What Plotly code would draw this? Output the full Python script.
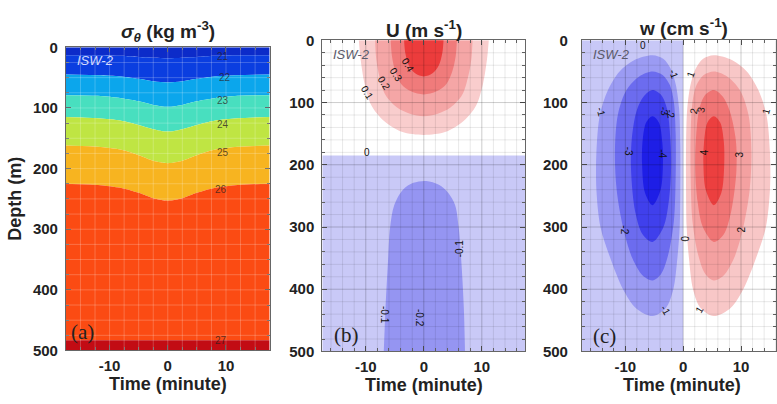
import plotly.graph_objects as go
import numpy as np

W, H = 777, 404
FONT = "Liberation Sans"

# ---------------- Panel (a): isopycnal depths (m) vs time (minute) ----------------
T_A = [-17.5, -12, -8, -5, -2.5, 0, 2.5, 5, 8, 12, 17.5]
SIGMA_LEVELS = [21, 22, 23, 24, 25, 26, 27]
D21 = [13, 13, 14, 16, 17, 18, 17, 16, 14, 13, 13]
D22 = [45, 46, 48, 52, 56, 58, 56, 52, 48, 46, 45]
D23 = [79, 80, 84, 89, 95, 98, 95, 89, 84, 80, 79]
D24 = [115, 117, 121, 128, 135, 139, 135, 128, 121, 117, 115]
D25 = [162, 164, 169, 178, 187, 191, 187, 178, 169, 164, 162]
D26 = [225, 227, 232, 240, 249, 253, 249, 240, 232, 227, 225]
D27 = [483, 483, 483, 483, 483, 483, 483, 483, 483, 483, 483]
A_COLORS = ['#0c2bc9', '#0b3ee0', '#0ba6ec', '#48dfbf', '#bfe543', '#f7b420',
            '#fb4b13', '#c20c14']
A_LABELS = [("21", 9.4, 15), ("22", 9.8, 49), ("23", 9.5, 88), ("24", 9.4, 128),
            ("25", 9.4, 174), ("26", 9.2, 234), ("27", 9.2, 484)]

# ---------------- Panel (b): U contours (m/s) ----------------
U_ZERO_T = [-17.5, 17.5]
U_ZERO_D = [185, 185]
U_NEG01_T = [-6.9, -6.6, -6.2, -5.8, -5.1, -3.6, -1.8, 0.4, 2.6, 4.2, 5.4, 6.0, 6.5, 6.9, 7.1]
U_NEG01_D = [500, 430, 360, 300, 265, 240, 229, 226, 232, 245, 265, 300, 360, 430, 500]
U01_T = [-11.2, -10.9, -10.2, -9.0, -6.8, -3.8, 0, 3.8, 6.8, 9.0, 10.2, 10.9, 11.2]
U01_D = [0, 30, 70, 105, 130, 147, 152, 147, 130, 105, 70, 30, 0]
U02_T = [-8.4, -8.2, -7.6, -6.6, -4.6, -2.4, 0, 2.4, 4.6, 6.6, 7.6, 8.2, 8.4]
U02_D = [0, 30, 60, 88, 108, 118, 122, 118, 108, 88, 60, 30, 0]
U03_T = [-5.7, -5.5, -4.9, -3.9, -2.2, 0, 2.2, 3.9, 4.9, 5.5, 5.7]
U03_D = [0, 25, 50, 70, 82, 87, 82, 70, 50, 25, 0]
U04_T = [-3.4, -3.2, -2.6, -1.5, 0, 1.5, 2.6, 3.2, 3.4]
U04_D = [0, 20, 40, 53, 58, 53, 40, 20, 0]
U_BG = '#c9c9f7'
U_COLORS = {'n01': '#9595f2', 'p01': '#f9cdcd', 'p02': '#f5a6a6',
            'p03': '#f07b7b', 'p04': '#ec3c3c'}
U_LABELS = [("0.4", -2.8, 39, 58), ("0.3", -4.8, 55, 58), ("0.2", -6.8, 69, 58),
            ("0.1", -9.8, 84, 58), ("0", -9.8, 180, 0), ("-0.1", 6.1, 334, -90),
            ("-0.1", -6.8, 442, 90), ("-0.2", -0.75, 447, 90)]

# ---------------- Panel (c): w contours (cm/s) ----------------
W_ZERO_T = [0, 0]
W_ZERO_D = [0, 500]
WN1_T = [-5.3, -3.4, -2.2, -1.3, -0.7, -0.5, -0.5, -0.6, -1.0, -1.7, -3.0, -5.3,
         -8.2, -10.4, -12.6, -14.3, -15.0, -15.0, -14.4, -13.0, -11.0, -8.5, -5.3]
WN1_D = [24, 30, 45, 70, 110, 170, 240, 300, 350, 400, 430, 443,
         430, 400, 350, 300, 240, 180, 120, 80, 50, 32, 24]
WN2_T = [-5.3, -3.5, -2.3, -1.6, -1.3, -1.3, -1.6, -2.6, -3.8, -5.3, -7.0, -8.8,
         -10.4, -11.5, -11.8, -11.3, -9.8, -7.6, -5.3]
WN2_D = [50, 56, 72, 100, 150, 220, 290, 345, 375, 386, 378, 350,
         300, 240, 180, 120, 80, 58, 50]
WN3_T = [-5.3, -3.8, -2.8, -2.2, -2.1, -2.5, -3.4, -5.3, -7.0, -8.3, -9.0, -8.9,
         -8.1, -6.8, -5.3]
WN3_D = [80, 88, 110, 160, 210, 260, 300, 324, 312, 275, 210, 160, 115, 90, 80]
WN4_T = [-5.3, -4.2, -3.6, -3.5, -3.9, -5.3, -6.6, -7.1, -7.0, -6.4, -5.3]
WN4_D = [122, 132, 165, 200, 240, 265, 245, 200, 160, 132, 122]
WP1_T = [5.3, 3.4, 2.2, 1.3, 0.7, 0.5, 0.5, 0.6, 1.0, 1.7, 3.0, 5.3,
         8.2, 10.4, 12.6, 14.3, 15.0, 15.0, 14.4, 13.0, 11.0, 8.5, 5.3]
WP1_D = [24, 30, 45, 70, 110, 170, 240, 300, 350, 400, 430, 443,
         430, 400, 350, 300, 240, 180, 120, 80, 50, 32, 24]
WP2_T = [5.3, 3.5, 2.3, 1.6, 1.3, 1.3, 1.6, 2.6, 3.8, 5.3, 7.0, 8.8,
         10.4, 11.5, 11.8, 11.3, 9.8, 7.6, 5.3]
WP2_D = [50, 56, 72, 100, 150, 220, 290, 345, 375, 386, 378, 350,
         300, 240, 180, 120, 80, 58, 50]
WP3_T = [5.3, 3.8, 2.8, 2.2, 2.1, 2.5, 3.4, 5.3, 7.0, 8.3, 9.2, 9.1,
         8.1, 6.8, 5.3]
WP3_D = [80, 88, 110, 160, 210, 260, 300, 324, 312, 275, 210, 160, 115, 90, 80]
WP4_T = [5.3, 4.2, 3.6, 3.5, 3.9, 5.3, 6.6, 7.1, 7.0, 6.4, 5.3]
WP4_D = [122, 132, 165, 200, 240, 265, 245, 200, 160, 132, 122]
W_BG = '#c8c8f7'
W_NEG_COLORS = ['#9b9bf3', '#6c6cef', '#4040ec', '#1e1ee6']
W_POS_COLORS = ['#f8c7c7', '#f4a1a1', '#f07575', '#ec3f3f']
W_LABELS = [("0", -7.0, 9, 0), ("-1", -14.2, 114, 75), ("-1", -1.7, 54, 70),
            ("1", 1.3, 55, -70), ("-3", -3.2, 114, 80), ("-2", -2.2, 118, 80),
            ("2", 1.8, 114, -80), ("3", 3.0, 112, -80), ("1", 14.3, 114, -75),
            ("-3", -9.3, 178, 90), ("-4", -3.5, 183, 90), ("4", 3.6, 180, -90),
            ("3", 9.7, 183, -90), ("-2", -10.2, 304, 90), ("2", 10.0, 304, -90),
            ("0", 0.1, 319, 90), ("-1", -3.0, 434, 60), ("1", 2.8, 432, -60)]

X_TICKS = [-10, 0, 10]
X_TICK_LABELS = ["-10", "0", "10"]
Y_TICKS = [0, 100, 200, 300, 400, 500]
Y_TICK_LABELS = ["0", "100", "200", "300", "400", "500"]

# ---------------- layout geometry (pixels) ----------------
XA_RANGE = [-17.5, 17.5]
XC_RANGE = [-17.5, 16.05]
PANELS = {
    'a': dict(x0=66, x1=270, y0=40, y1=356.5, xr=XA_RANGE),
    'b': dict(x0=322.7, x1=526, y0=32.7, y1=357.5, xr=XA_RANGE),
    'c': dict(x0=582.7, x1=777, y0=32.7, y1=357.5, xr=XC_RANGE),
}

fig = go.Figure()


def band(x, y, fill, color, xa, ya):
    fig.add_trace(go.Scatter(x=x, y=y, mode='lines', fill=fill, fillcolor=color,
                             line=dict(width=0, shape='spline', smoothing=0.8),
                             xaxis=xa, yaxis=ya, hoverinfo='skip', showlegend=False))


def poly(x, y, color, xa, ya, smooth=True):
    fig.add_trace(go.Scatter(x=x, y=y, mode='lines', fill='toself', fillcolor=color,
                             line=dict(width=0, shape='spline' if smooth else 'linear',
                                       smoothing=0.9),
                             xaxis=xa, yaxis=ya, hoverinfo='skip', showlegend=False))


# Panel (a) bands
band(T_A, [0] * len(T_A), None, None, 'x', 'y')
for i, d in enumerate([D21, D22, D23, D24, D25, D26, D27]):
    band(T_A, d, 'tonexty', A_COLORS[i], 'x', 'y')
band(T_A, [500] * len(T_A), 'tonexty', A_COLORS[7], 'x', 'y')

# Panel (b)
poly(U_ZERO_T + [U_ZERO_T[1], U_ZERO_T[0]], U_ZERO_D + [500, 500], U_BG, 'x2', 'y2', smooth=False)
poly(U_NEG01_T, U_NEG01_D, U_COLORS['n01'], 'x2', 'y2')
poly(U01_T, U01_D, U_COLORS['p01'], 'x2', 'y2')
poly(U02_T, U02_D, U_COLORS['p02'], 'x2', 'y2')
poly(U03_T, U03_D, U_COLORS['p03'], 'x2', 'y2')
poly(U04_T, U04_D, U_COLORS['p04'], 'x2', 'y2')

# Panel (c)
poly(W_ZERO_T + [XC_RANGE[0], XC_RANGE[0]], W_ZERO_D + [500, 0], W_BG, 'x3', 'y3', smooth=False)
for (t, d), c in zip([(WN1_T, WN1_D), (WN2_T, WN2_D), (WN3_T, WN3_D), (WN4_T, WN4_D)], W_NEG_COLORS):
    poly(t, d, c, 'x3', 'y3')
for (t, d), c in zip([(WP1_T, WP1_D), (WP2_T, WP2_D), (WP3_T, WP3_D), (WP4_T, WP4_D)], W_POS_COLORS):
    poly(t, d, c, 'x3', 'y3')


def px2paper_x(px):
    return px / W


def px2paper_y(py):
    return 1 - py / H


layout = dict(width=W, height=H, margin=dict(l=0, r=0, t=0, b=0),
              paper_bgcolor='white', plot_bgcolor='white', showlegend=False)

shapes = []
annotations = []
for idx, key in enumerate(['a', 'b', 'c']):
    p = PANELS[key]
    sfx = '' if idx == 0 else str(idx + 1)
    minor_x = 2.5 if key == 'a' else 2
    minor_y = 25 if key == 'a' else 20
    layout['xaxis' + sfx] = dict(
        domain=[px2paper_x(p['x0']), px2paper_x(p['x1'])], range=p['xr'],
        anchor='y' + sfx, tickvals=X_TICKS, ticktext=X_TICK_LABELS,
        ticks='inside', ticklen=5, tickcolor='#555', showline=True, linecolor='#666',
        linewidth=1, mirror='ticks', showgrid=False, zeroline=False,
        tickfont=dict(family=FONT, size=15, color='#222', weight='bold'),
        minor=dict(tick0=0, dtick=minor_x, ticks='inside', ticklen=3, tickcolor='#666',
                   showgrid=False),
        layer='above traces', ticklabelstandoff=2, fixedrange=True)
    layout['yaxis' + sfx] = dict(
        domain=[px2paper_y(p['y1']), px2paper_y(p['y0'])], range=[500, 0],
        anchor='x' + sfx, tickvals=Y_TICKS, ticktext=Y_TICK_LABELS,
        ticks='inside', ticklen=5, tickcolor='#555', showline=True, linecolor='#666',
        linewidth=1, mirror='ticks', showgrid=False, zeroline=False,
        tickfont=dict(family=FONT, size=15, color='#222', weight='bold'),
        minor=dict(tick0=0, dtick=minor_y, ticks='inside', ticklen=3, tickcolor='#666',
                   showgrid=False),
        layer='above traces', ticklabelstandoff=(4 if key != 'c' else 10), fixedrange=True)

    xr = 'x' + sfx
    yr = 'y' + sfx
    # gridlines drawn above the filled contours
    xs = np.arange(-16 if key != 'a' else -15, p['xr'][1], minor_x)
    for xv in xs:
        if key == 'a':
            col = 'rgba(255,255,255,0.22)'
        else:
            col = 'rgba(0,0,0,0.20)' if abs(xv) % 10 == 0 else 'rgba(0,0,0,0.09)'
        shapes.append(dict(type='line', xref=xr, yref=yr, x0=xv, x1=xv, y0=0, y1=500,
                           line=dict(color=col, width=1), layer='above'))
    for yv in np.arange(minor_y, 500, minor_y):
        if key == 'a':
            col = 'rgba(255,255,255,0.22)'
        else:
            col = 'rgba(0,0,0,0.20)' if yv % 100 == 0 else 'rgba(0,0,0,0.09)'
        shapes.append(dict(type='line', xref=xr, yref=yr, x0=p['xr'][0], x1=p['xr'][1],
                           y0=yv, y1=yv, line=dict(color=col, width=1), layer='above'))

    # x axis title
    cx = (p['x0'] + 0.5 * (p['x1'] - p['x0'])) if key != 'c' else 683
    annotations.append(dict(xref='paper', yref='paper', x=px2paper_x(cx),
                            y=px2paper_y(391 if key == 'a' else 393),
                            text='<b>Time (minute)</b>', showarrow=False,
                            font=dict(family=FONT, size=18, color='#222'),
                            xanchor='center', yanchor='middle'))
    # ISW-2 tag
    annotations.append(dict(xref=xr, yref=yr, x=-12.4, y=22, text='<i>ISW-2</i>',
                            showarrow=False,
                            font=dict(family=FONT, size=13,
                                      color=('rgba(225,228,255,0.95)' if key == 'a' else '#5a5a6a')),
                            xanchor='center', yanchor='middle'))

# panel titles
annotations.append(dict(xref='paper', yref='paper', x=px2paper_x(168), y=px2paper_y(23),
                        text='<b><i>σ</i><sub><i>θ</i></sub> (kg m<sup>-3</sup>)</b>',
                        showarrow=False, font=dict(family=FONT, size=19, color='#222'),
                        xanchor='center', yanchor='middle'))
annotations.append(dict(xref='paper', yref='paper', x=px2paper_x(425), y=px2paper_y(21),
                        text='<b>U (m s<sup>-1</sup>)</b>', showarrow=False,
                        font=dict(family=FONT, size=19, color='#222'),
                        xanchor='center', yanchor='middle'))
annotations.append(dict(xref='paper', yref='paper', x=px2paper_x(684), y=px2paper_y(19),
                        text='<b>w (cm s<sup>-1</sup>)</b>', showarrow=False,
                        font=dict(family=FONT, size=19, color='#222'),
                        xanchor='center', yanchor='middle'))
# depth title
annotations.append(dict(xref='paper', yref='paper', x=px2paper_x(15), y=px2paper_y(198),
                        text='<b>Depth (m)</b>', textangle=-90, showarrow=False,
                        font=dict(family=FONT, size=18, color='#222'),
                        xanchor='center', yanchor='middle'))
# panel letters
for txt, cx, cy in [("(a)", 83, 337), ("(b)", 347, 340), ("(c)", 605, 341)]:
    annotations.append(dict(xref='paper', yref='paper', x=px2paper_x(cx), y=px2paper_y(cy),
                            text=txt, showarrow=False,
                            font=dict(family='Liberation Serif', size=21, color='#222'),
                            xanchor='center', yanchor='middle'))

# contour labels
for txt, t, d in A_LABELS:
    annotations.append(dict(xref='x', yref='y', x=t, y=d, text=txt, showarrow=False,
                            font=dict(family=FONT, size=10, color='rgba(40,30,30,0.75)'),
                            xanchor='center', yanchor='middle'))
for txt, t, d, ang in U_LABELS:
    annotations.append(dict(xref='x2', yref='y2', x=t, y=d, text=txt, showarrow=False,
                            textangle=ang,
                            font=dict(family=FONT, size=10, color='#111'),
                            xanchor='center', yanchor='middle'))
for txt, t, d, ang in W_LABELS:
    annotations.append(dict(xref='x3', yref='y3', x=t, y=d, text=txt, showarrow=False,
                            textangle=ang,
                            font=dict(family=FONT, size=10, color='#111'),
                            xanchor='center', yanchor='middle'))

layout['shapes'] = shapes
layout['annotations'] = annotations
fig.update_layout(**layout)
fig.write_html("out.html", config={'displayModeBar': False},
               post_script="document.body.style.margin='0';document.body.style.overflow='hidden';")
